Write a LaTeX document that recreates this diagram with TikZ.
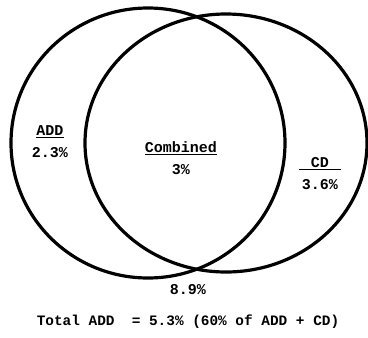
\documentclass[tikz,border=0pt]{standalone}
\usepackage{fontspec}
\setmonofont{Liberation Mono}
\usetikzlibrary{shapes}
\tikzstyle{vset}=[ellipse,draw=black!100,line width=3.2pt,inner sep=0pt]
\tikzstyle{lbl}=[font=\ttfamily\bfseries\fontsize{15}{22}\selectfont,align=center,inner sep=1pt]

\begin{document}
\begin{tikzpicture}[x=1pt,y=-1pt]
\useasboundingbox (0,0) rectangle (368,338);
\node[vset,minimum width=274pt,minimum height=270pt] (ADDset) at (148,143) {};
\node[vset,minimum width=282pt,minimum height=258pt] (CDset) at (226,143) {};
\node[lbl] (ADD) at (50,142) {\underline{ADD}\\2.3\%};
\node[lbl] (Comb) at (181,158) {\underline{Combined}\\3\%};
\node[lbl] (CD) at (320,174) {\underline{\makebox[2.8em]{CD}}\\3.6\%};
\node[lbl] (both) at (188,290) {8.9\%};
\node[lbl,font=\ttfamily\bfseries\fontsize{14.4}{22}\selectfont] (total) at (188,322) {Total ADD\ \ = 5.3\% (60\% of ADD + CD)};
\end{tikzpicture}
\end{document}
